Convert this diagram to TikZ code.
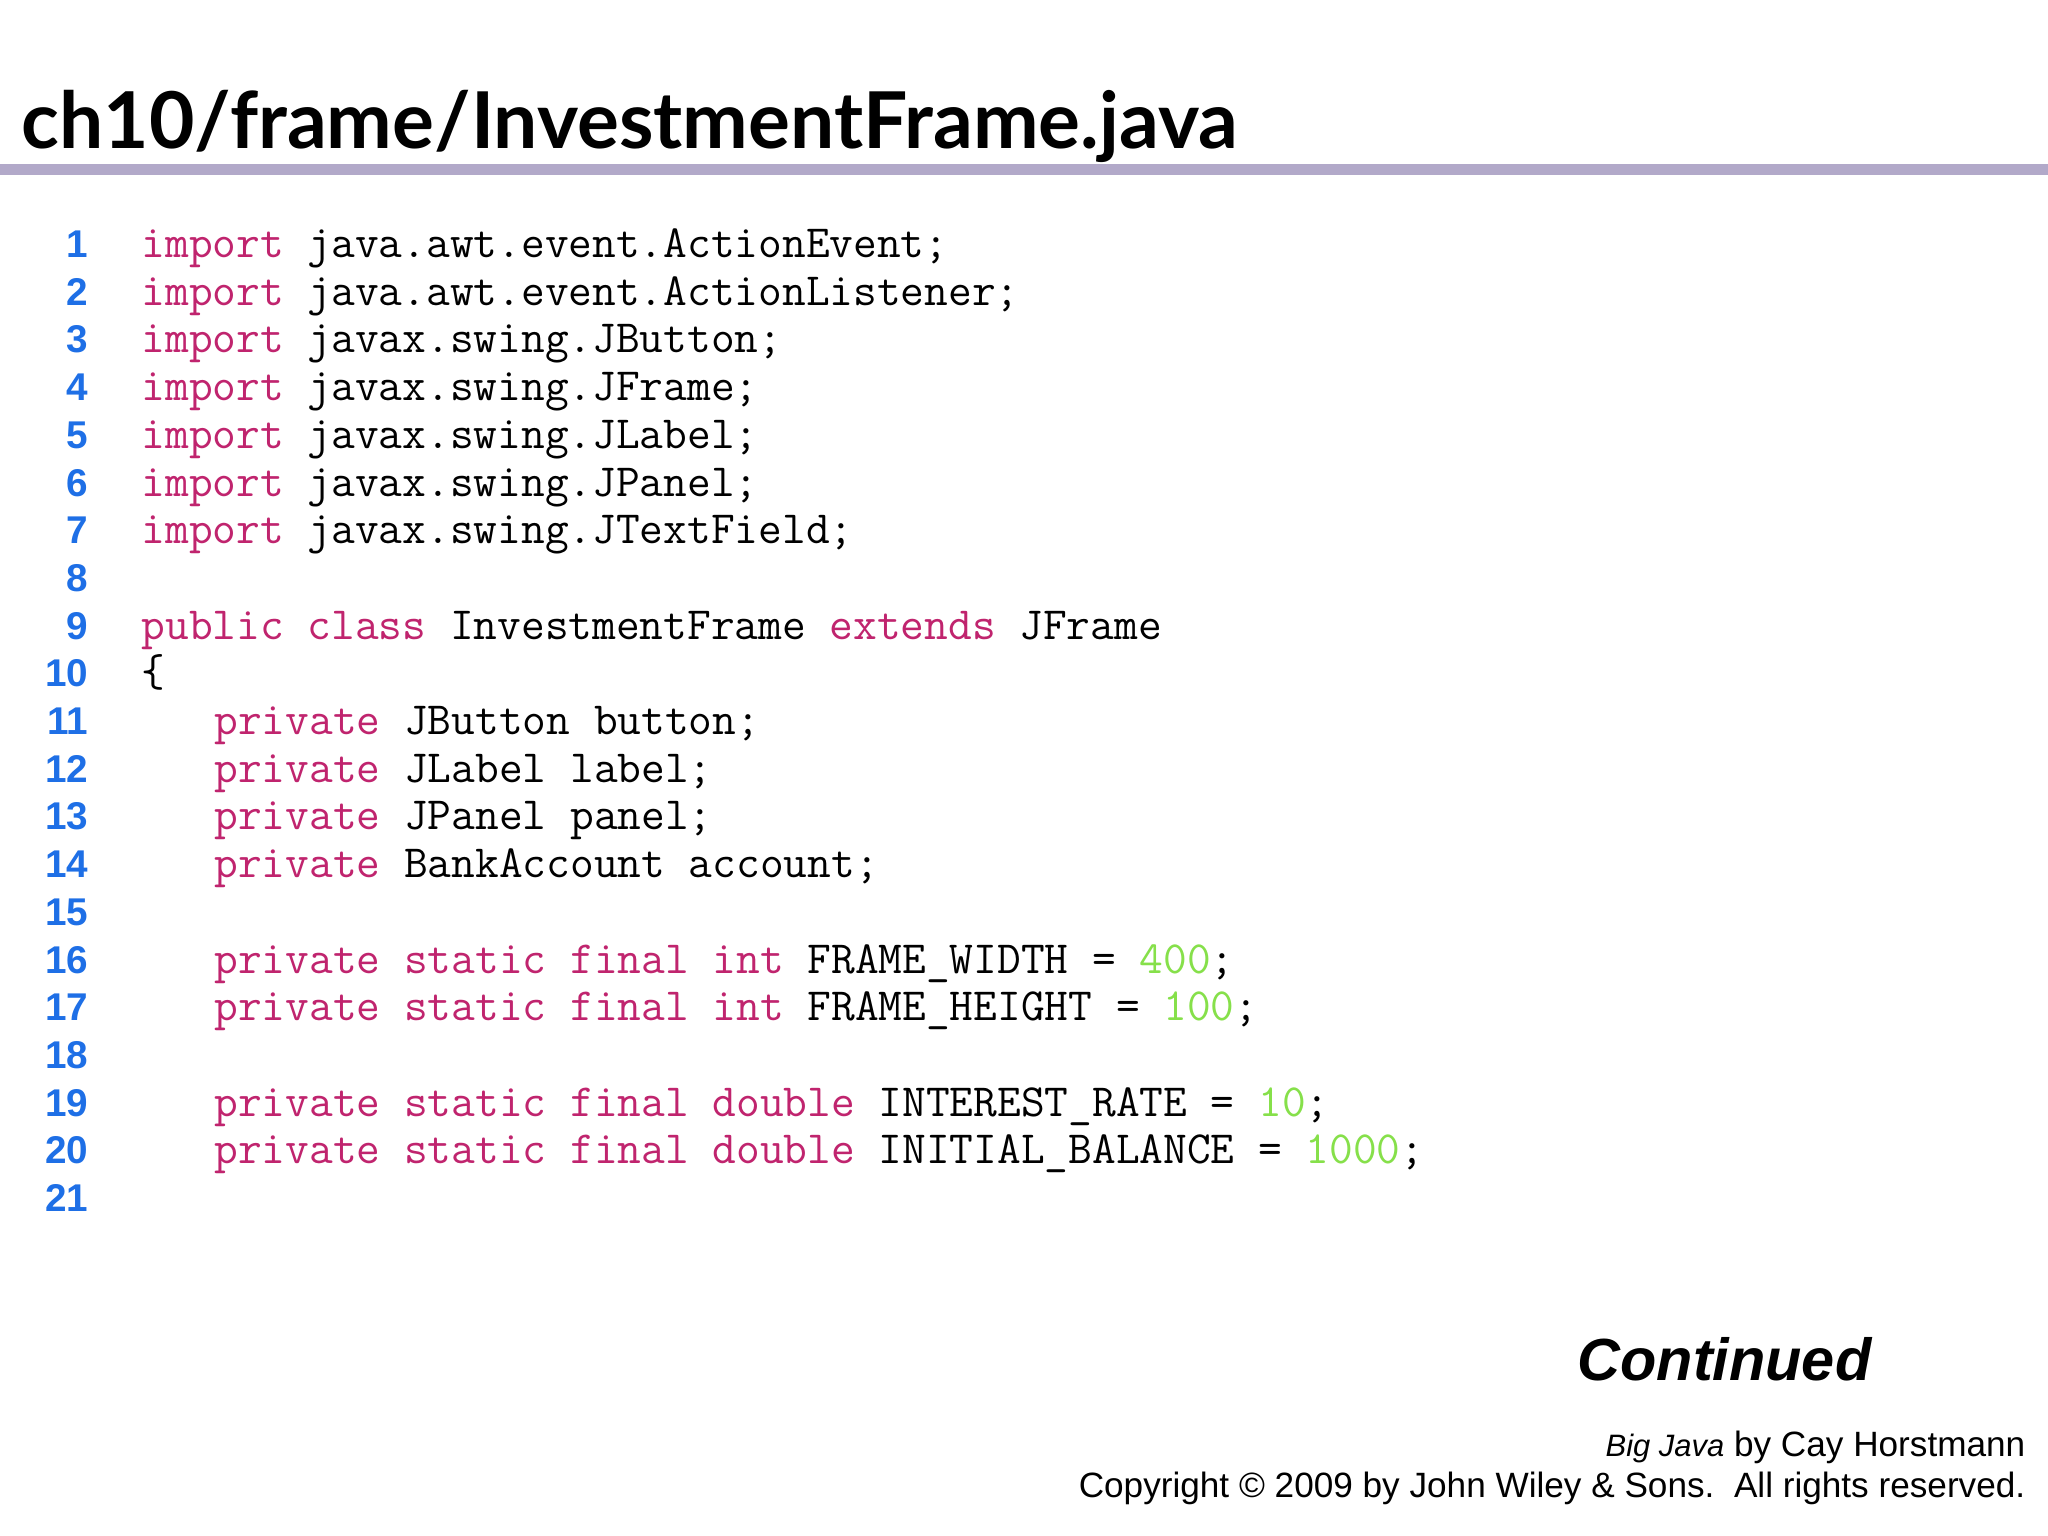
\documentclass[tikz,border=0pt]{standalone}
\usepackage{fontspec}
\setmainfont{Liberation Sans}
\setmonofont{Latin Modern Mono}
\newfontfamily\titlefont{Lato}
\definecolor{kwc}{HTML}{C0246E}
\definecolor{numc}{HTML}{86E04A}
\definecolor{lnc}{HTML}{1E6FE6}
\definecolor{rulec}{HTML}{B2A9C9}
\newcommand{\kw}[1]{\textcolor{kwc}{#1}}
\newcommand{\nm}[1]{\textcolor{numc}{#1}}
\tikzset{code/.style={anchor=base west,inner sep=0pt,font=\fontsize{13.1}{15}\ttfamily},
 lnum/.style={anchor=base east,inner sep=0pt,text=lnc,font=\fontsize{11}{13}\bfseries}}
\begin{document}
\begin{tikzpicture}[x=0.01cm,y=0.01cm]
\path[fill=white] (0,0) rectangle (2048,-1536);
\node[anchor=base west,inner sep=0pt,font=\titlefont\fontsize{22.3}{26}\bfseries] (title) at (21,-148) {ch10/frame/InvestmentFrame.java};
\fill[rulec] (0,-164) rectangle (2048,-175);
\foreach \i in {1,...,21}{
  \node[lnum] (n\i) at (89,{-257.5-47.7*(\i-1)}) {\i};
}
\def\L#1#2#3{\node[code] (c#1) at ({141+24.25*#2},{-257.5-47.7*(#1-1)}) {#3};}
\L{1}{0}{\kw{import} java.awt.event.ActionEvent;}
\L{2}{0}{\kw{import} java.awt.event.ActionListener;}
\L{3}{0}{\kw{import} javax.swing.JButton;}
\L{4}{0}{\kw{import} javax.swing.JFrame;}
\L{5}{0}{\kw{import} javax.swing.JLabel;}
\L{6}{0}{\kw{import} javax.swing.JPanel;}
\L{7}{0}{\kw{import} javax.swing.JTextField;}
\L{9}{0}{\kw{public} \kw{class} InvestmentFrame \kw{extends} JFrame}
\L{10}{0}{\{}
\L{11}{3}{\kw{private} JButton button;}
\L{12}{3}{\kw{private} JLabel label;}
\L{13}{3}{\kw{private} JPanel panel;}
\L{14}{3}{\kw{private} BankAccount account;}
\L{16}{3}{\kw{private} \kw{static} \kw{final} \kw{int} FRAME\_WIDTH = \nm{400};}
\L{17}{3}{\kw{private} \kw{static} \kw{final} \kw{int} FRAME\_HEIGHT = \nm{100};}
\L{19}{3}{\kw{private} \kw{static} \kw{final} \kw{double} INTEREST\_RATE = \nm{10};}
\L{20}{3}{\kw{private} \kw{static} \kw{final} \kw{double} INITIAL\_BALANCE = \nm{1000};}
\node[anchor=base east,inner sep=0pt,font=\fontsize{16.9}{21}\bfseries\itshape] (cont) at (1872,-1380) {Continued};
\node[anchor=base east,inner sep=0pt,font=\fontsize{8.8}{11}] (f1) at (2026,-1456) {\textit{Big Java} by Cay Horstmann};
\node[anchor=base east,inner sep=0pt,font=\fontsize{8.8}{11}] (f2) at (2026,-1497) {Copyright © 2009 by John Wiley \& Sons.\ \ All rights reserved.};
\end{tikzpicture}
\end{document}
